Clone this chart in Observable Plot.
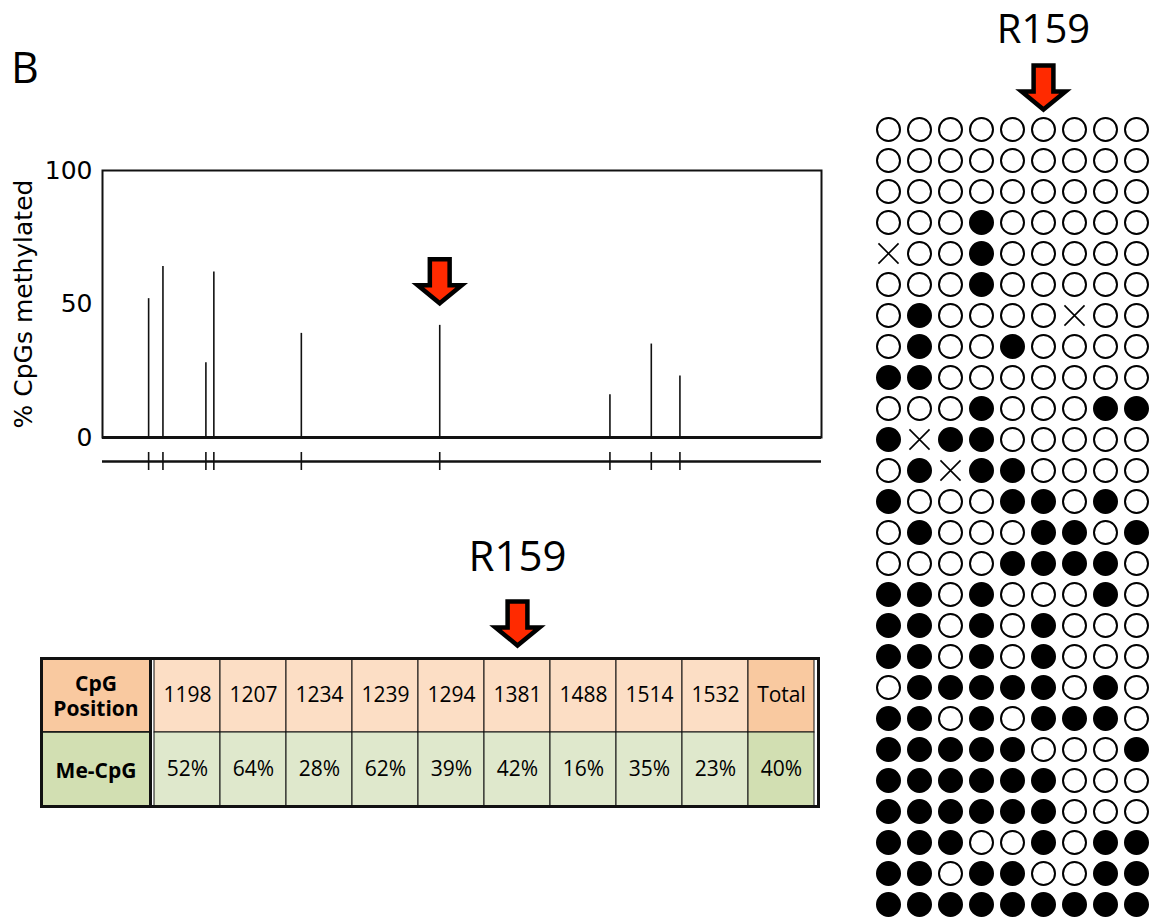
<!DOCTYPE html>
<html>
<head>
<meta charset="utf-8">
<script src="https://cdn.jsdelivr.net/npm/d3@7"></script>
<script src="https://cdn.jsdelivr.net/npm/@observablehq/plot@0.6"></script>
<style>
  html, body { margin: 0; padding: 0; background: #fff; }
  #page { position: relative; width: 1151px; height: 922px; overflow: hidden; background: #fff; }
  .abs { position: absolute; }
  #page svg { max-width: none !important; }
  #panel { left: 11px; top: 45px; font: 43px/1 "Open Sans", sans-serif; color: #000; }
</style>
</head>
<body>
<div id="page">
  <div id="panel" class="abs">B</div>
</div>
<script>
// ---------- data ----------
const positions = [1198, 1207, 1234, 1239, 1294, 1381, 1488, 1514, 1532];
const methylPct = [52, 64, 28, 62, 39, 42, 16, 35, 23];
const totalPct = 40;
const markedPosition = 1381;
const markedLabel = "R159";
const yTicks = [0, 50, 100];
const yLabel = "% CpGs methylated";
const rowLabels = ["CpG Position", "Me-CpG"];
const rowHeaderTexts = ["CpG\nPosition", "Me-CpG"];
const totalLabel = "Total";
// one string per sequenced clone: 1 = methylated, 0 = unmethylated, x = not determined
const clones = [
  "000000000",
  "000000000",
  "000000000",
  "000100000",
  "x00100000",
  "000100000",
  "010000x00",
  "010010000",
  "110000000",
  "000100011",
  "1x1100000",
  "01x110000",
  "100011010",
  "010001101",
  "000011110",
  "110100010",
  "110101000",
  "110101000",
  "011111010",
  "110101110",
  "111110001",
  "111111000",
  "111111000",
  "111001011",
  "110110011",
  "111111111"
];

// ---------- styles ----------
const RED = "#ff2a00";
const INK = "#111";
const peachLight = "#fcdec5", peachDark = "#f9c9a0";
const greenLight = "#dfe8cc", greenDark = "#d2dfb2";
const bigFont = '"Open Sans", sans-serif';
const tableFont = '"Liberation Sans Narrow", "Arial Narrow", "Open Sans", sans-serif';

const blockArrow = {
  draw(context, size) {
    const r = Math.sqrt(size / Math.PI);
    const hb = -0.82 * r, sw = 0.45 * r, top = -2 * r;
    context.moveTo(0, 0);
    context.lineTo(r, hb);
    context.lineTo(sw, hb);
    context.lineTo(sw, top);
    context.lineTo(-sw, top);
    context.lineTo(-sw, hb);
    context.lineTo(-r, hb);
    context.closePath();
  }
};

const cpg = positions.map((p, i) => ({pos: p, key: String(p), pct: methylPct[i]}));
const mi = positions.indexOf(markedPosition);
const marked = {pos: markedPosition, key: String(markedPosition), pct: methylPct[mi], label: markedLabel};
const arrowStyle = {symbol: blockArrow, r: 22, fill: RED, stroke: "#000", strokeWidth: 4.5, strokeLinejoin: "miter"};

const page = document.getElementById("page");
function place(el, left, top) {
  el.classList.add("abs");
  el.style.left = left + "px";
  el.style.top = top + "px";
  page.appendChild(el);
}

// ---------- methylation profile chart ----------
const chart = Plot.plot({
  width: 840, height: 340,
  marginLeft: 102, marginRight: 19, marginTop: 20, marginBottom: 53,
  style: {background: "transparent", fontFamily: '"DejaVu Sans", Verdana, sans-serif', fontSize: "25px", color: "#000", overflow: "visible", maxWidth: "none"},
  x: {domain: [1169, 1621], axis: null},
  y: {domain: [0, 100], ticks: yTicks, tickSize: 0, tickPadding: 10, label: yLabel,
      labelAnchor: "center", labelOffset: 88, labelArrow: "none"},
  marks: [
    Plot.frame({stroke: INK, strokeWidth: 2}),
    Plot.ruleY([0], {stroke: INK, strokeWidth: 3}),
    Plot.ruleX(cpg, {x: "pos", y1: 0, y2: "pct", stroke: INK, strokeWidth: 1.6}),
    Plot.ruleY([0], {dy: 24, stroke: INK, strokeWidth: 2.5}),
    Plot.ruleX(cpg, {x: "pos", y1: 0, y2: 0, insetTop: -9, insetBottom: -9, dy: 24, stroke: INK, strokeWidth: 1.6}),
    Plot.dot([marked], {x: "pos", y: "pct", dy: -22, ...arrowStyle})
  ]
});
place(chart, 0, 150);

// ---------- bisulfite clone matrix ----------
const rowIds = clones.map((_, i) => i + 1);
const calls = clones.flatMap((s, i) => [...s].map((c, j) => ({row: i + 1, key: String(positions[j]), state: c})));
const matrix = Plot.plot({
  width: 281, height: 922,
  marginLeft: 16, marginRight: 13, marginTop: 123, marginBottom: 11.5,
  style: {background: "transparent", fontFamily: bigFont, overflow: "visible", maxWidth: "none"},
  x: {type: "point", domain: positions.map(String), padding: 0, axis: null},
  y: {type: "point", domain: rowIds, padding: 0, axis: null},
  marks: [
    Plot.dot(calls.filter(d => d.state === "0"), {x: "key", y: "row", r: 11.5, fill: "#fff", stroke: "#000", strokeWidth: 2}),
    Plot.dot(calls.filter(d => d.state === "1"), {x: "key", y: "row", r: 11.5, fill: "#000", stroke: "#000", strokeWidth: 2}),
    Plot.dot(calls.filter(d => d.state === "x"), {x: "key", y: "row", symbol: "times", r: 9.2, fill: "none", stroke: "#000", strokeWidth: 1.6}),
    Plot.dot([marked], {x: "key", frameAnchor: "top", dy: -14, ...arrowStyle}),
    Plot.text([marked], {x: "key", frameAnchor: "top", lineAnchor: "middle", text: "label", dy: -93, fontSize: 40, fill: "#000"})
  ]
});
place(matrix, 870, 0);

// ---------- summary table ----------
const headCells = rowLabels.map((r, i) => ({col: "head", row: r, text: rowHeaderTexts[i], fill: i === 0 ? peachDark : greenDark}));
const tableCols = [...positions.map(String), totalLabel];
const tableCells = tableCols.flatMap((c, j) => {
  const isTotal = j === positions.length;
  return [
    {col: c, row: rowLabels[0], text: c, fill: isTotal ? peachDark : peachLight},
    {col: c, row: rowLabels[1], text: (isTotal ? totalPct : methylPct[j]) + "%", fill: isTotal ? greenDark : greenLight}
  ];
});

const tableHead = Plot.plot({
  width: 113, height: 280,
  marginLeft: 2, marginRight: 2, marginTop: 128, marginBottom: 4,
  style: {background: "transparent", fontFamily: tableFont, overflow: "visible", maxWidth: "none"},
  color: {type: "identity"},
  x: {domain: ["head"], padding: 0, axis: null},
  y: {domain: rowLabels, padding: 0, axis: null},
  marks: [
    Plot.cell(headCells, {x: "col", y: "row", fill: "fill", stroke: INK, strokeWidth: 1.5}),
    Plot.text(headCells, {x: "col", y: "row", text: "text", fontSize: 21, fontWeight: "bold", lineHeight: 1.2, fill: "#000"}),
    Plot.frame({stroke: INK, strokeWidth: 3})
  ]
});
place(tableHead, 39, 530);

const tableBody = Plot.plot({
  width: 672, height: 280,
  marginLeft: 2, marginRight: 2, marginTop: 128, marginBottom: 4,
  style: {background: "transparent", fontFamily: tableFont, overflow: "visible", maxWidth: "none"},
  color: {type: "identity"},
  x: {domain: tableCols, padding: 0, axis: null},
  y: {domain: rowLabels, padding: 0, axis: null},
  marks: [
    Plot.cell(tableCells, {x: "col", y: "row", fill: "fill", stroke: INK, strokeWidth: 1}),
    Plot.text(tableCells, {x: "col", y: "row", text: "text", fontSize: 21, fill: "#000"}),
    Plot.frame({stroke: INK, strokeWidth: 3}),
    Plot.dot([marked], {x: "key", frameAnchor: "top", dy: -13, ...arrowStyle}),
    Plot.text([marked], {x: "key", frameAnchor: "top", lineAnchor: "middle", text: "label", dy: -101, fontSize: 42, fontFamily: bigFont, fill: "#000"})
  ]
});
place(tableBody, 148, 530);
</script>
</body>
</html>
